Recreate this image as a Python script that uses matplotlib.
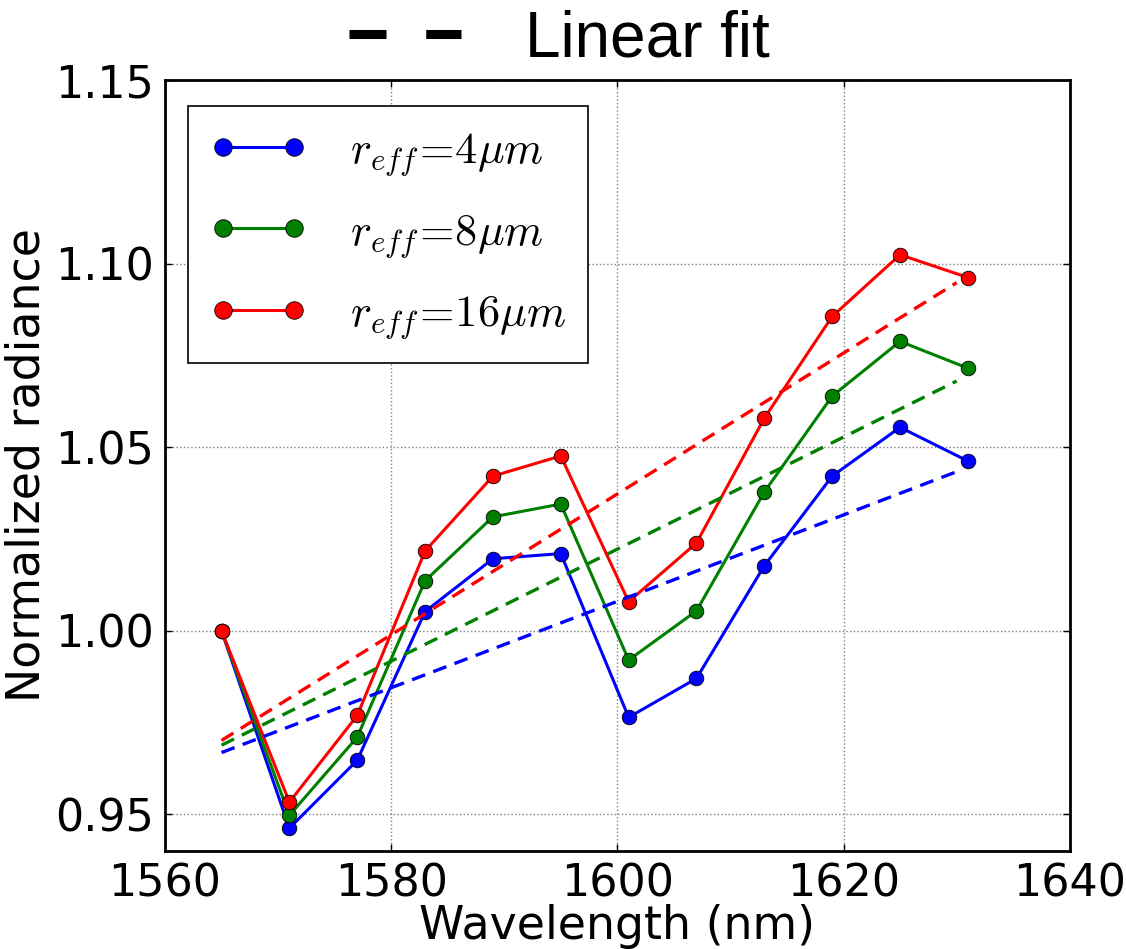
import matplotlib
matplotlib.use("Agg")
import matplotlib.pyplot as plt
from matplotlib.lines import Line2D

wavelength = [1565, 1571, 1577, 1583, 1589, 1595, 1601, 1607, 1613, 1619, 1625, 1631]
r4 = [1.000, 0.9462, 0.9647, 1.0052, 1.0196, 1.0210, 0.9764, 0.9870, 1.0177, 1.0421, 1.0554, 1.0462]
r8 = [1.000, 0.9497, 0.9710, 1.0136, 1.0310, 1.0345, 0.9920, 1.0054, 1.0378, 1.0639, 1.0788, 1.0715]
r16 = [1.000, 0.9533, 0.9769, 1.0217, 1.0421, 1.0476, 1.0079, 1.0239, 1.0579, 1.0856, 1.1024, 1.0962]

fit_x = [1565, 1630]
fit_r4 = [0.9668, 1.0433]
fit_r8 = [0.9688, 1.0680]
fit_r16 = [0.9701, 1.0948]

labels = [r'$r_{eff}\!=\!4\mu m$', r'$r_{eff}\!=\!8\mu m$', r'$r_{eff}\!=\!16\mu m$']
colors = ['blue', 'green', 'red']

plt.rcParams['mathtext.fontset'] = 'cm'
plt.rcParams['font.family'] = ['DejaVu Sans']

fig = plt.figure(figsize=(11.26, 9.49), dpi=100)
ax = fig.add_axes([0.1465, 0.1033, 0.8035, 0.8124])

series = [r4, r8, r16]
fits = [fit_r4, fit_r8, fit_r16]
for ys, lab, c in zip(series, labels, colors):
    ax.plot(wavelength, ys, '-o', color=c, lw=2.2, ms=10.5, mec='k', mew=0.6, label=lab, zorder=3)
for fy, c in zip(fits, colors):
    ax.plot(fit_x, fy, ls='--', color=c, lw=2.4, dashes=(4.2, 2.6), zorder=4)

ax.set_xlim(1560, 1640)
ax.set_ylim(0.94, 1.15)
ax.set_xticks([1560, 1580, 1600, 1620, 1640])
ax.set_yticks([0.95, 1.00, 1.05, 1.10, 1.15])
ax.set_yticklabels(['0.95', '1.00', '1.05', '1.10', '1.15'])
ax.grid(True, color='0.5', ls=':', lw=1.0)
ax.tick_params(direction='in', top=True, right=True, length=5, width=1, labelsize=32, pad=8)
for s in ax.spines.values():
    s.set_linewidth(2.0)

ax.set_xlabel('Wavelength (nm)', fontsize=33, labelpad=-1)
ax.set_ylabel('Normalized radiance', fontsize=33, labelpad=4)

leg = ax.legend(loc='upper left', bbox_to_anchor=(0.025, 0.966), borderaxespad=0,
                fontsize=32, numpoints=2, handlelength=2.2, handletextpad=0.95,
                labelspacing=0.72, borderpad=0.5, fancybox=False, framealpha=1,
                markerscale=1.2)
leg.get_frame().set_edgecolor('k')
leg.get_frame().set_linewidth(1.2)

fit_handle = Line2D([], [], color='k', ls='--', lw=6.5, dashes=(4.1, 4.4))
fig.legend(handles=[fit_handle], labels=['Linear fit'], loc='center', bbox_to_anchor=(0.497, 0.958),
           frameon=False, handlelength=1.75, handletextpad=1.0,
           prop={'family': 'Liberation Sans', 'size': 46})

fig.savefig('out.png', dpi=100)
